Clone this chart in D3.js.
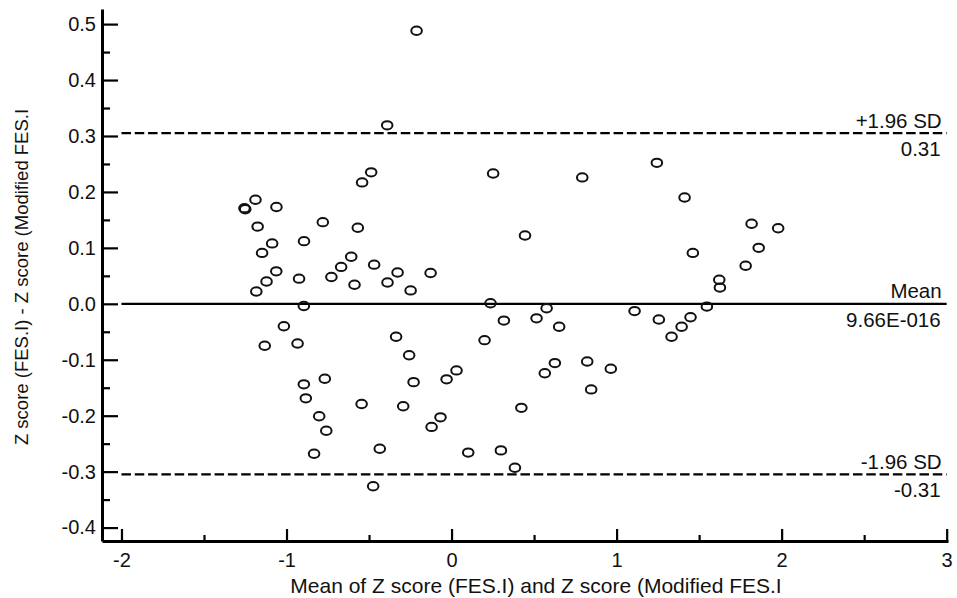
<!DOCTYPE html>
<html>
<head>
<meta charset="utf-8">
<script src="https://cdn.jsdelivr.net/npm/d3@7"></script>
<style>
  body { margin: 0; background: #fff; }
  text { font-family: "Liberation Sans", Arial, sans-serif; fill: #111; }
</style>
</head>
<body>
<div id="chart"></div>
<script>
// mean of the two z scores (x) and their difference (y), one entry per subject
const meanZ = [-1.255, -1.250, -1.188, -1.061, -1.175, -0.780, -1.087, -1.148, -0.894, -1.062,
    -1.121, -1.183, -0.924, -0.728, -0.212, -0.390, -0.487, -0.542, 0.252, -0.568,
    0.445, -0.608, -0.669, -0.469, -0.327, -0.127, -0.588, -0.388, -0.248, 0.236,
    -0.895, 0.317, -1.016, -1.132, -0.933, -0.336, -0.257, 0.200, 0.030, -0.030,
    -0.895, -0.768, -0.230, -0.883, -0.545, -0.293, 0.423, -0.802, -0.067, -0.759,
    -0.121, -0.833, -0.435, 0.101, 0.299, 0.384, -0.475, 0.792, 1.244, 1.412,
    1.818, 1.979, 1.861, 1.462, 1.782, 1.622, 1.626, 1.547, 0.576, 0.515,
    0.652, 1.109, 1.256, 1.448, 1.394, 1.333, 0.565, 0.626, 0.822, 0.965, 0.846];
const diffZ = [0.171, 0.169, 0.186, 0.173, 0.138, 0.146, 0.108, 0.091, 0.112, 0.058,
    0.040, 0.022, 0.045, 0.048, 0.488, 0.319, 0.235, 0.217, 0.233, 0.136,
    0.122, 0.084, 0.066, 0.070, 0.056, 0.055, 0.034, 0.038, 0.024, 0.001,
    -0.004, -0.030, -0.040, -0.075, -0.071, -0.059, -0.092, -0.065, -0.119, -0.135,
    -0.144, -0.134, -0.140, -0.169, -0.179, -0.183, -0.186, -0.201, -0.203, -0.227,
    -0.220, -0.268, -0.259, -0.266, -0.262, -0.293, -0.326, 0.226, 0.252, 0.190,
    0.143, 0.135, 0.100, 0.091, 0.068, 0.043, 0.029, -0.005, -0.008, -0.026,
    -0.041, -0.013, -0.028, -0.024, -0.041, -0.059, -0.124, -0.106, -0.103, -0.116, -0.153];

// reference lines: upper limit, mean, lower limit
const refY = [0.305, 0, -0.305];
const refName = ["+1.96 SD", "Mean", "-1.96 SD"];
const refValue = ["0.31", "9.66E-016", "-0.31"];

const xTicks = [-2, -1, 0, 1, 2, 3];
const xMinor = [-1.5, -0.5, 0.5, 1.5, 2.5];
const yTicks = [-0.4, -0.3, -0.2, -0.1, 0, 0.1, 0.2, 0.3, 0.4, 0.5];
const yMinor = [-0.35, -0.25, -0.15, -0.05, 0.05, 0.15, 0.25, 0.35, 0.45];

const xTitle = "Mean of Z score (FES.I) and Z score (Modified FES.I";
const yTitle = "Z score (FES.I) - Z score (Modified FES.I";

const width = 957, height = 598,
      margin = ({top: 9, right: 9, bottom: 57, left: 102});

let svg = d3.select("#chart")
    .append("svg")
    .attr("width", width)
    .attr("height", height);

let x = d3.scaleLinear()
    .domain([-2.118, 3.008])
    .range([margin.left, width - margin.right]);

let y = d3.scaleLinear()
    .domain([-0.424, 0.527])
    .range([height - margin.bottom, margin.top]);

// reference lines go from x = -2 to x = 3
let ref = svg.selectAll(".ref")
    .data(refY)
    .join("g")
    .attr("class", "ref");

ref.append("line")
    .attr("x1", x(-2))
    .attr("x2", x(3))
    .attr("y1", d => y(d))
    .attr("y2", d => y(d))
    .attr("stroke", "#000")
    .attr("stroke-width", 2.3)
    .attr("stroke-dasharray", (d, i) => i === 1 ? null : "9.5,3.8");

ref.append("text")
    .attr("x", x(3) - 5)
    .attr("y", d => y(d) - 5.5)
    .attr("text-anchor", "end")
    .style("font-size", "20.5px")
    .text((d, i) => refName[i]);

ref.append("text")
    .attr("x", x(3) - 6)
    .attr("y", d => y(d) + 23)
    .attr("text-anchor", "end")
    .style("font-size", "20.5px")
    .text((d, i) => refValue[i]);

// the points, drawn as open ellipses like the original
svg.append("g")
    .selectAll("ellipse")
    .data(meanZ)
    .join("ellipse")
    .attr("cx", d => x(d))
    .attr("cy", (d, i) => y(diffZ[i]))
    .attr("rx", 5.3)
    .attr("ry", 4.2)
    .attr("fill", "none")
    .attr("stroke", "#111")
    .attr("stroke-width", 2);

// axes with ticks pointing into the plot
const xAxis = g => g
    .attr("transform", `translate(0, ${height - margin.bottom})`)
    .call(d3.axisBottom(x).tickValues(xTicks).tickSize(-12).tickSizeOuter(0).tickPadding(12)
        .tickFormat(d => d < 0 ? "-" + Math.abs(d) : d));

const yAxis = g => g
    .attr("transform", `translate(${margin.left}, 0)`)
    .call(d3.axisLeft(y).tickValues(yTicks).tickSize(-16).tickSizeOuter(0).tickPadding(6)
        .tickFormat(d => (d < 0 ? "-" : "") + Math.abs(d).toFixed(1)));

svg.append("g")
    .attr("transform", `translate(0, ${height - margin.bottom})`)
    .call(d3.axisBottom(x).tickValues(xMinor).tickSize(-6).tickSizeOuter(0).tickFormat(""))
    .call(g => g.select(".domain").remove());

svg.append("g")
    .attr("transform", `translate(${margin.left}, 0)`)
    .call(d3.axisLeft(y).tickValues(yMinor).tickSize(-8).tickSizeOuter(0).tickFormat(""))
    .call(g => g.select(".domain").remove());

svg.append("g").attr("class", "axis").call(xAxis);
svg.append("g").attr("class", "axis").call(yAxis);

svg.selectAll(".tick line").attr("stroke", "#000").attr("stroke-width", 2.2);
svg.selectAll(".domain").attr("stroke", "#000").attr("stroke-width", 3);
svg.selectAll(".axis text")
    .style("font-size", "20px")
    .style("font-family", "'Liberation Sans', Arial, sans-serif")
    .attr("fill", "#111");

// axis titles
svg.append("text")
    .attr("x", 536)
    .attr("y", 593)
    .attr("text-anchor", "middle")
    .style("font-size", "21px")
    .text(xTitle);

svg.append("text")
    .attr("transform", `translate(28, ${(y(-0.424) + y(0.527)) / 2 + 2}) rotate(-90)`)
    .attr("text-anchor", "middle")
    .style("font-size", "18.5px")
    .text(yTitle);
</script>
</body>
</html>
